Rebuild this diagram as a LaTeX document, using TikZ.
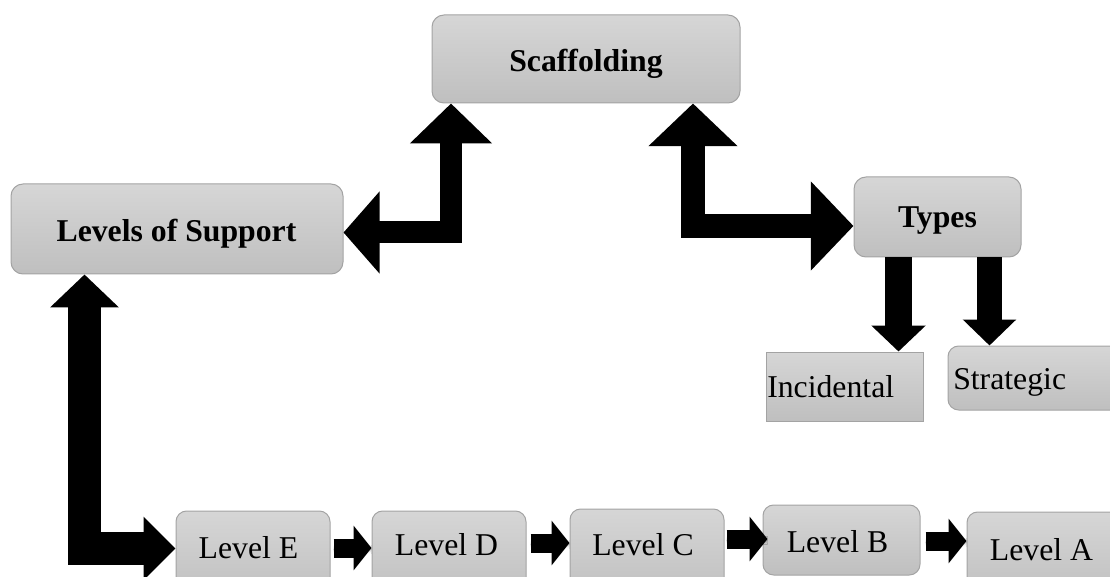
\documentclass[tikz,border=0pt]{standalone}
\usepackage{fontspec}
\setmainfont{Liberation Serif}
\usetikzlibrary{arrows.meta,fit,calc,shadows.blur}
\definecolor{boxtop}{HTML}{D6D6D6}
\definecolor{boxbot}{HTML}{BFBFBF}
\definecolor{boxline}{HTML}{A3A3A3}
\tikzset{
  box/.style={draw=boxline, line width=0.75pt, top color=boxtop, bottom color=boxbot,
    inner sep=0pt, rounded corners=8pt},
  sqbox/.style={box, rounded corners=0pt},
  lbl/.style={font=\fontsize{23.8pt}{28pt}\selectfont, inner sep=0pt},
  blbl/.style={lbl, font=\fontsize{23.8pt}{28pt}\selectfont\bfseries},
  bigarrow/.style={draw=black, line join=miter},
  smallarrow/.style={draw=black, line width=14.25pt, line join=miter,
    -{Triangle[length=13.5pt,width=33pt]},
    blur shadow={shadow xshift=0pt, shadow yshift=-1pt, shadow blur radius=3pt, shadow opacity=45}}
}
\begin{document}
\begin{tikzpicture}[x=0.75pt, y=-0.75pt]
\useasboundingbox (0,0) rectangle (1110,577);
\clip (0,0) rectangle (1110,577);

% main concept boxes
\node[box, rounded corners=9pt, fit={(432,15) (740,103)}] (scaf) {};
\node[blbl, anchor=base] (tscaf) at (586,72) {Scaffolding};
\node[box, rounded corners=9pt, fit={(11,184) (343,274)}] (lev) {};
\node[blbl, anchor=base] (tlev) at (176.5,242) {Levels of Support};
\node[box, rounded corners=9pt, fit={(854,177) (1021,257)}] (types) {};
\node[blbl, anchor=base] (ttypes) at (937.5,228) {Types};

% kinds of scaffolding
\node[sqbox, fit={(766,352) (923,421)}] (inc) {};
\node[lbl, anchor=base west] (tinc) at (767,397) {Incidental};
\node[box, fit={(948,346) (1140,410)}] (strat) {};
\node[lbl, anchor=base west] (tstrat) at (953,389) {Strategic};

% levels of support
\node[box, fit={(176,511) (330,600)}] (levE) {};
\node[box, fit={(372,511) (526,600)}] (levD) {};
\node[box, fit={(570,509) (724,600)}] (levC) {};
\node[box, fit={(763,505) (920,575)}] (levB) {};
\node[box, fit={(967,512) (1140,600)}] (levA) {};
\node[lbl, anchor=base] (tE) at (248.5,558) {Level E};
\node[lbl, anchor=base] (tD) at (446.5,555) {Level D};
\node[lbl, anchor=base] (tC) at (643,555) {Level C};
\node[lbl, anchor=base] (tB) at (837.5,552) {Level B};
\node[lbl, anchor=base] (tA) at (1041.5,560) {Level A};

% elbow connectors between the main boxes
\draw[bigarrow, line width=16.5pt,
  {Triangle[length=30pt,width=60pt]}-{Triangle[length=27pt,width=60pt]}]
  (scaf.south -| 451,0) |- (lev.east |- 0,232.5);
\draw[bigarrow, line width=18pt,
  {Triangle[length=32pt,width=65pt]}-{Triangle[length=32pt,width=65pt]}]
  (scaf.south -| 693,0) |- (types.west |- 0,226);
\draw[bigarrow, line width=24.75pt,
  {Triangle[length=24.75pt,width=50.25pt]}-{Triangle[length=24pt,width=46.5pt]}]
  (lev.south -| 84.5,0) |- (levE.west |- 0,548.5);

% types split downwards
\draw[bigarrow, line width=20.25pt, -{Triangle[length=19.5pt,width=39.75pt]}]
  (types.south -| 898.5,0) -- (inc.north -| 898.5,0);
\draw[bigarrow, line width=18.75pt, -{Triangle[length=19.5pt,width=39pt]}]
  (types.south -| 989.5,0) -- (strat.north -| 989.5,0);

% chain of levels
\draw[smallarrow] ($(levE.east |- 0,548)+(3,0)$) -- (levD.west |- 0,548);
\draw[smallarrow] ($(levD.east |- 0,543)+(4,0)$) -- (levC.west |- 0,543);
\draw[smallarrow] ($(levC.east |- 0,539)+(2,0)$) -- ($(levB.west |- 0,539)+(5,0)$);
\draw[smallarrow] ($(levB.east |- 0,541)+(5,0)$) -- (levA.west |- 0,541);
\end{tikzpicture}
\end{document}
